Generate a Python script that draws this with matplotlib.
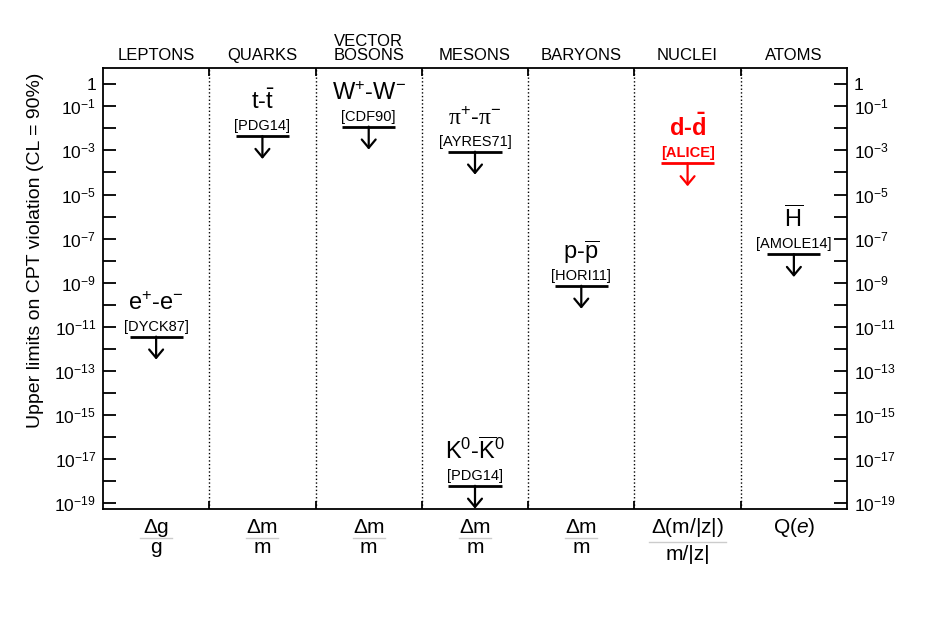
import matplotlib
matplotlib.use("Agg")
import matplotlib.pyplot as plt
import matplotlib.transforms as mtransforms

plt.rcParams["font.family"] = ["Liberation Sans", "DejaVu Sans"]
plt.rcParams["mathtext.fontset"] = "custom"
plt.rcParams["mathtext.rm"] = "Liberation Sans"
plt.rcParams["mathtext.it"] = "Liberation Sans:italic"
plt.rcParams["mathtext.bf"] = "Liberation Sans:bold"
plt.rcParams["mathtext.sf"] = "Liberation Serif"

# column headers and bottom quantity labels
headers = ["LEPTONS", "QUARKS", "VECTOR\nBOSONS", "MESONS", "BARYONS", "NUCLEI", "ATOMS"]
quantity_top = [r"$\Delta$g", r"$\Delta$m", r"$\Delta$m", r"$\Delta$m", r"$\Delta$m", r"$\Delta$(m/|z|)", r"Q($e$)"]
quantity_bottom = ["g", "m", "m", "m", "m", "m/|z|", ""]

# upper limits
particles = [
    r"e$^{+}$-e$^{-}$",
    r"t-$\bar{\mathrm{t}}$",
    r"W$^{+}$-W$^{-}$",
    r"$\mathsf{\pi}^{+}$-$\mathsf{\pi}^{-}$",
    r"K$^{0}$-$\overline{\mathrm{K}}^{0}$",
    r"p-$\overline{\mathrm{p}}$",
    r"d-$\mathbf{\bar{d}}$",
    r"$\overline{\mathrm{H}}$",
]
references = ["[DYCK87]", "[PDG14]", "[CDF90]", "[AYRES71]", "[PDG14]", "[HORI11]", "[ALICE]", "[AMOLE14]"]
columns = [0, 1, 2, 3, 3, 4, 5, 6]
limits = [3.6e-12, 4.5e-3, 1.2e-2, 8.8e-4, 6.2e-19, 7.3e-10, 2.6e-4, 2.0e-8]
highlight = [False, False, False, False, False, False, True, False]

fig = plt.figure(figsize=(9.5, 6.27), dpi=100)
ax = fig.add_axes([0.1084, 0.1882, 0.7832, 0.7029])

ax.set_xlim(0, len(headers))
ax.set_yscale("log")
ax.set_ylim(10 ** -19.26, 10 ** 0.726)

for side in ["left", "right", "top", "bottom"]:
    ax.spines[side].set_linewidth(1.3)

# y ticks every decade, labels on odd decades
exps = list(range(0, 20))
ax.set_yticks([10.0 ** -k for k in exps])
ylabels = []
for k in exps:
    if k == 0:
        ylabels.append("1")
    elif k % 2 == 1:
        ylabels.append(r"$10^{-%d}$" % k)
    else:
        ylabels.append("")
ax.set_yticklabels(ylabels)
ax.yaxis.set_minor_locator(matplotlib.ticker.NullLocator())
ax.tick_params(axis="y", which="major", direction="in", length=9.5, width=1.3,
               left=True, right=True, labelleft=True, labelright=True,
               labelsize=12.5, pad=5)

ax.set_xticks(range(1, len(headers)))
ax.set_xticklabels([])
ax.tick_params(axis="x", direction="in", length=6, width=1.3, top=True, bottom=True)

for i in range(1, len(headers)):
    ax.axvline(i, ls=":", lw=1.0, color="black")

blend = mtransforms.blended_transform_factory(ax.transData, ax.transAxes)

for i, h in enumerate(headers):
    ax.text(i + 0.5, 1.012, h, transform=blend, ha="center", va="bottom",
            fontsize=12, linespacing=0.95)

for i, (num, den) in enumerate(zip(quantity_top, quantity_bottom)):
    ax.text(i + 0.5, -0.0545, num, transform=blend, ha="center", va="baseline", fontsize=15)
    if den:
        wide = len(den) > 2
        y_den = -0.1157 if wide else -0.099
        y_bar = -0.074 if wide else -0.066
        half = 0.36 if wide else 0.15
        ax.plot([i + 0.5 - half, i + 0.5 + half], [y_bar, y_bar], transform=blend,
                color="#cccccc", lw=1.0, clip_on=False)
        ax.text(i + 0.5, y_den, den, transform=blend, ha="center", va="baseline", fontsize=15)

for name, ref, col, val, hl in zip(particles, references, columns, limits, highlight):
    color = "red" if hl else "black"
    weight = "bold" if hl else "normal"
    xc = col + 0.5
    ax.plot([xc - 0.25, xc + 0.25], [val, val], color=color, lw=2.0, solid_capstyle="butt")
    ax.annotate("", xy=(xc, val / 10 ** 1.04), xytext=(xc, val),
                arrowprops=dict(arrowstyle="->,head_length=0.3,head_width=0.25",
                                lw=1.6, color=color, shrinkA=0, shrinkB=0,
                                mutation_scale=20),
                annotation_clip=False)
    ax.annotate(ref, xy=(xc, val), xytext=(0, 6), textcoords="offset pixels",
                ha="center", va="baseline", fontsize=10.5, color=color, fontweight=weight)
    ax.annotate(name, xy=(xc, val), xytext=(0, 27), textcoords="offset pixels",
                ha="center", va="baseline", fontsize=17, color=color, fontweight=weight)

fig.text(0.037, 0.6, "Upper limits on CPT violation (CL = 90%)", rotation=90,
         ha="center", va="center", fontsize=14)

fig.savefig("out.png", dpi=100)
